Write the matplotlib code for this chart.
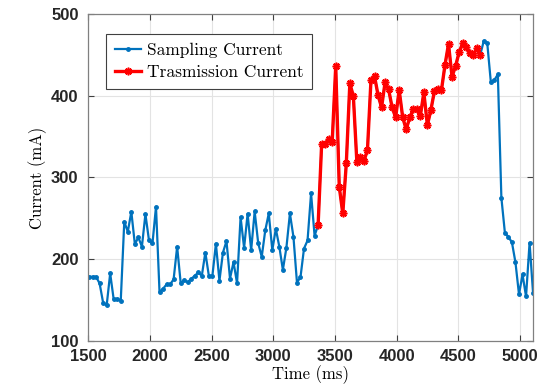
import numpy as np
import matplotlib
matplotlib.use('Agg')
import matplotlib.pyplot as plt

t_start = 1506.0
sample_period = 28.56
current_ma = [
    178.5, 178.5, 178.5, 170.4, 146.7, 143.4, 182.6, 150.8, 151.6, 149.2,
    245.9, 233.6, 258.1, 218.5, 226.7, 215.3, 255.2, 223.4, 219.3, 264.2,
    159.8, 163.9, 169.2, 169.2, 175.3, 215.3, 171.2, 174.0, 171.9, 176.0,
    179.7, 183.8, 179.7, 208.2, 179.7, 179.7, 218.9, 173.6, 208.2, 222.1,
    176.4, 196.4, 170.7, 251.5, 214.0, 255.6, 211.1, 258.4, 219.7, 202.9,
    235.2, 256.0, 211.1, 237.2, 215.2, 187.0, 214.0, 256.0, 227.4, 171.5,
    178.0, 213.1, 222.9, 280.5, 228.7,
    # transmission window
    241.8, 340.8, 340.9, 346.6, 343.7, 436.3, 288.6, 256.0, 317.2, 415.1,
    399.6, 318.4, 325.4, 320.1, 333.5, 419.2, 424.1, 400.8, 385.7, 416.3,
    407.8, 385.7, 373.5, 407.0, 373.5, 358.8, 373.5, 383.3, 383.3, 375.1,
    404.1, 364.1, 382.5, 405.7, 408.2, 407.0, 437.6, 463.3, 423.3, 436.3,
    453.0, 464.1, 460.0, 451.8, 449.8, 458.0, 449.8,
    # after transmission
    467.0, 464.0, 417.2, 419.2, 426.1, 275.2, 232.3, 227.4, 220.5, 196.0,
    156.9, 181.3, 154.4, 220.1, 158.1]
tx_first = 65
tx_last = 111

current_ma = np.array(current_ma)
time_ms = t_start + sample_period * np.arange(len(current_ma))

fig = plt.figure(figsize=(5.56, 3.91), dpi=100)
ax = fig.add_axes([0.1588, 0.128, 0.8, 0.8362])

ax.plot(time_ms, current_ma, color='#0072BD', linewidth=1.6,
        marker='.', markersize=5, label='Sampling Current')
ax.plot(time_ms[tx_first:tx_last + 1], current_ma[tx_first:tx_last + 1],
        color='red', linewidth=2.4, marker=(8, 2, 0), markersize=5.5,
        markeredgewidth=1.2, label='Trasmission Current')

ax.set_xlim(1500, time_ms[-1])
ax.set_ylim(100, 500)
ax.set_xticks(np.arange(1500, 5001, 500))
ax.set_yticks(np.arange(100, 501, 100))
ax.grid(True, color='#e3e3e3', linewidth=0.8)
ax.set_axisbelow(True)
ax.tick_params(direction='in', top=True, right=True, length=4,
               color='#404040', labelcolor='#262626')
ax.tick_params(axis='x', pad=6)
ax.tick_params(axis='y', pad=7)
for lab in ax.get_xticklabels() + ax.get_yticklabels():
    lab.set_fontfamily('Liberation Sans')
    lab.set_fontweight('bold')
    lab.set_fontsize(12)
for sp in ax.spines.values():
    sp.set_color('#808080')
    sp.set_linewidth(0.9)

ax.set_xlabel('Time (ms)', fontfamily='cmr10', fontsize=12, labelpad=1)
ax.set_ylabel('Current (mA)', fontfamily='cmr10', fontsize=12, labelpad=3)

leg = ax.legend(loc='upper left', bbox_to_anchor=(0.04, 0.94),
                prop={'family': 'cmr10', 'size': 12.5}, fancybox=False,
                edgecolor='#404040', framealpha=1, handlelength=1.5,
                handletextpad=0.35, borderpad=0.5, labelspacing=0.4,
                borderaxespad=0)
leg.get_frame().set_linewidth(0.8)

fig.savefig('out.png', dpi=100)
